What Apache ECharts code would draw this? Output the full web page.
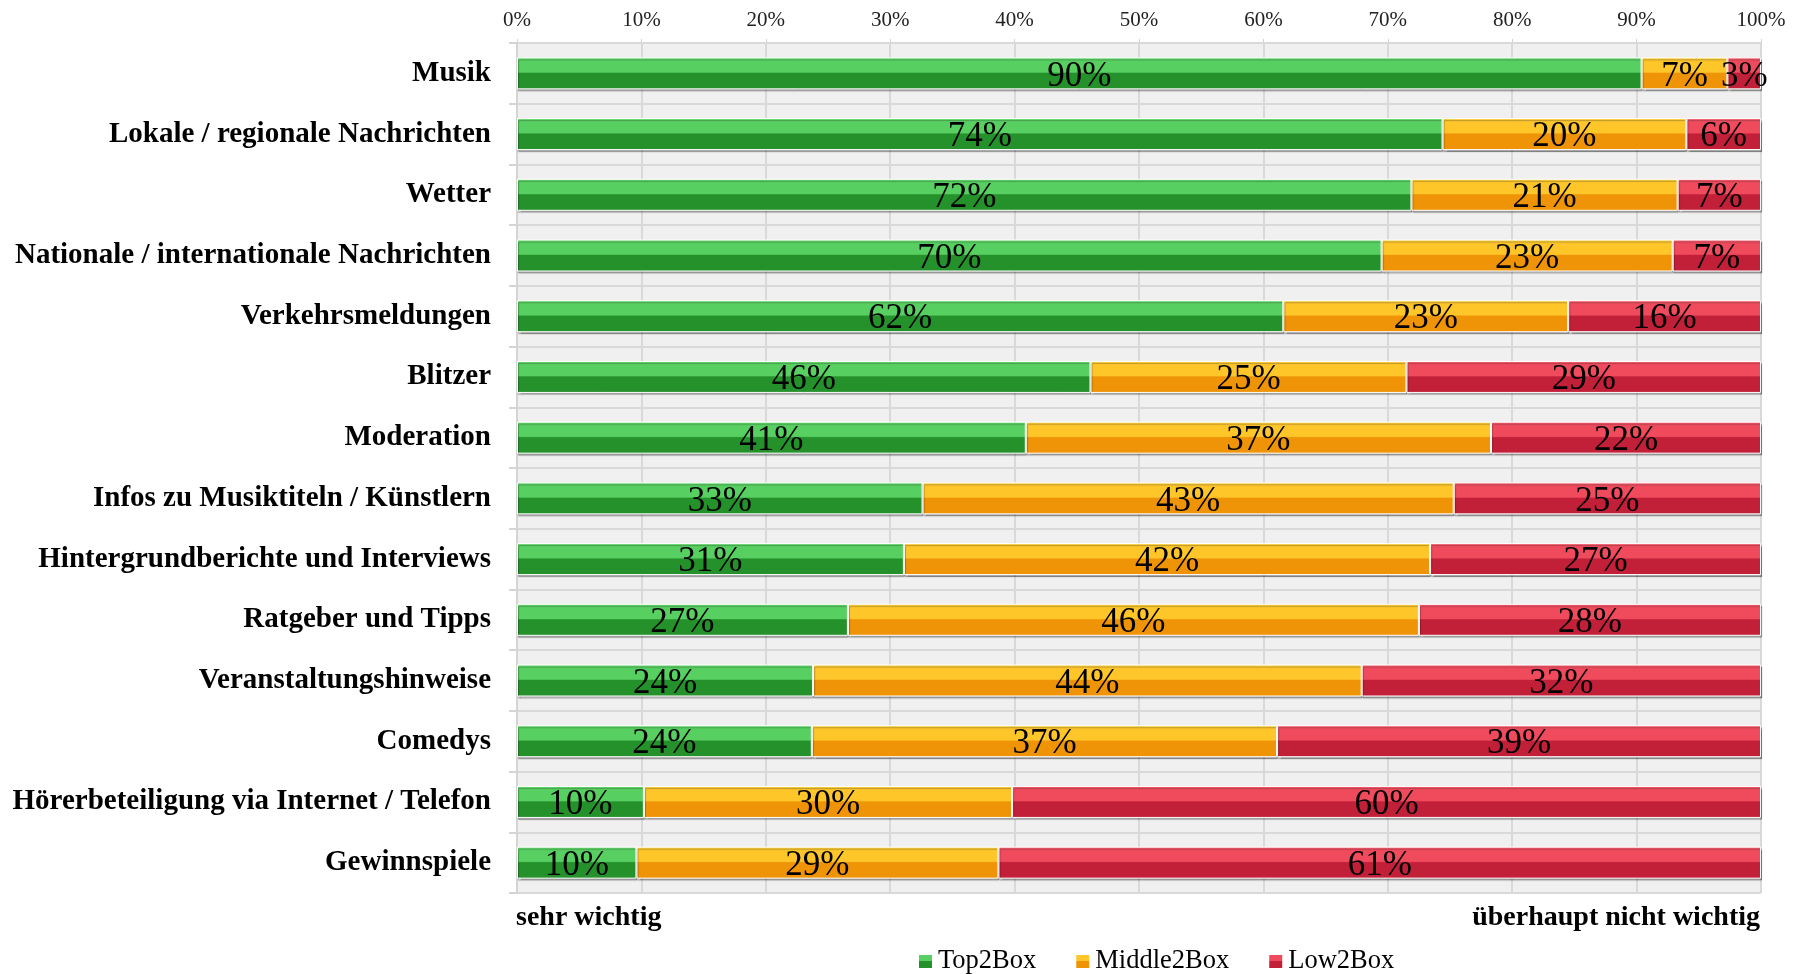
<!DOCTYPE html>
<html>
<head>
<meta charset="utf-8">
<title>Wichtigkeit Radio-Inhalte</title>
<script src="https://cdn.jsdelivr.net/npm/echarts@6/dist/echarts.min.js"></script>
<style>
  html, body { margin: 0; padding: 0; background: #fff; }
  #main { width: 1804px; height: 974px; }
</style>
</head>
<body>
<div id="main"></div>
<script>
// Kategorien (von oben nach unten)
const categories = [
  "Musik",
  "Lokale / regionale Nachrichten",
  "Wetter",
  "Nationale / internationale Nachrichten",
  "Verkehrsmeldungen",
  "Blitzer",
  "Moderation",
  "Infos zu Musiktiteln / Künstlern",
  "Hintergrundberichte und Interviews",
  "Ratgeber und Tipps",
  "Veranstaltungshinweise",
  "Comedys",
  "Hörerbeteiligung via Internet / Telefon",
  "Gewinnspiele"
];

// Anteile in Prozent
const top2Box = [90.4, 74.4, 71.9, 69.5, 61.6, 46.1, 40.9, 32.6, 31.1, 26.6, 23.8, 23.7, 10.2, 9.6];
const middle2Box = [6.9, 19.6, 21.4, 23.4, 22.9, 25.4, 37.4, 42.7, 42.3, 45.9, 44.1, 37.4, 29.6, 29.1];
const low2Box = [2.7, 6.0, 6.7, 7.1, 15.5, 28.5, 21.7, 24.7, 26.6, 27.5, 32.1, 38.9, 60.2, 61.3];

const seriesNames = ["Top2Box", "Middle2Box", "Low2Box"];
const tickLabels = ["0%", "10%", "20%", "30%", "40%", "50%", "60%", "70%", "80%", "90%", "100%"];

const serif = "'Liberation Serif', 'DejaVu Serif', serif";

// Balken mit "Bevel"-Optik: oben hell, unten dunkel
const bevel = (light, mid, dark) => ({
  type: "linear", x: 0, y: 0, x2: 0, y2: 1,
  colorStops: [
    { offset: 0, color: light },
    { offset: 0.12, color: mid },
    { offset: 0.46, color: mid },
    { offset: 0.5, color: dark },
    { offset: 1, color: dark }
  ]
});

const colors = [
  bevel("#6fe077", "#57d061", "#24912b"),
  bevel("#ffd84a", "#ffc62a", "#ef9406"),
  bevel("#ff6a7a", "#f04a5d", "#c21f38")
];

const makeSeries = (name, data, color) => ({
  name: name,
  type: "bar",
  stack: "total",
  barWidth: 32,
  data: data,
  itemStyle: {
    color: color,
    borderColor: "#ffffff",
    borderWidth: 1,
    shadowColor: "rgba(0,0,0,0.3)",
    shadowOffsetX: 1,
    shadowOffsetY: 2,
    shadowBlur: 1
  },
  label: {
    show: true,
    position: "inside",
    formatter: (p) => Math.round(p.value) + "%",
    color: "#000",
    fontFamily: serif,
    fontSize: 35,
    offset: [0, 3]
  },
  emphasis: { disabled: true }
});

const chart = echarts.init(document.getElementById("main"));

chart.setOption({
  animation: false,
  textStyle: { fontFamily: serif },
  grid: {
    left: 517,
    right: 43,
    top: 43,
    bottom: 81,
    show: true,
    backgroundColor: "#f0f0f0",
    borderColor: "#d4d4d4",
    borderWidth: 1
  },
  legend: {
    data: seriesNames,
    left: 912,
    top: 943,
    icon: "rect",
    itemWidth: 15,
    itemHeight: 15,
    itemGap: 38,
    textStyle: { fontFamily: serif, fontSize: 26.5, color: "#000" }
  },
  xAxis: {
    type: "value",
    position: "top",
    min: 0,
    max: 100,
    interval: 10,
    axisLabel: {
      formatter: (v) => tickLabels[Math.round(v / 10)],
      fontFamily: serif,
      fontSize: 21,
      color: "#222",
      margin: 12
    },
    axisLine: { show: false },
    axisTick: { show: true, length: 4, lineStyle: { color: "#d4d4d4" } },
    splitLine: { show: true, lineStyle: { color: "#d9d9d9", width: 2 } }
  },
  yAxis: {
    type: "category",
    inverse: true,
    data: categories,
    axisLine: { show: true, lineStyle: { color: "#d4d4d4", width: 2 } },
    axisTick: { show: true, length: 8, lineStyle: { color: "#d4d4d4", width: 2 } },
    splitLine: { show: true, lineStyle: { color: "#d9d9d9", width: 2 } },
    axisLabel: {
      fontFamily: serif,
      fontWeight: "bold",
      fontSize: 29,
      color: "#000",
      margin: 26
    }
  },
  graphic: [
    {
      type: "text",
      left: 516,
      top: 904,
      style: { text: "sehr wichtig", font: "bold 28px " + serif, fill: "#000" }
    },
    {
      type: "text",
      right: 44,
      top: 904,
      style: { text: "überhaupt nicht wichtig", font: "bold 28px " + serif, fill: "#000" }
    }
  ],
  series: [
    makeSeries(seriesNames[0], top2Box, colors[0]),
    makeSeries(seriesNames[1], middle2Box, colors[1]),
    makeSeries(seriesNames[2], low2Box, colors[2])
  ]
});

window.addEventListener("resize", () => chart.resize());
</script>
</body>
</html>
